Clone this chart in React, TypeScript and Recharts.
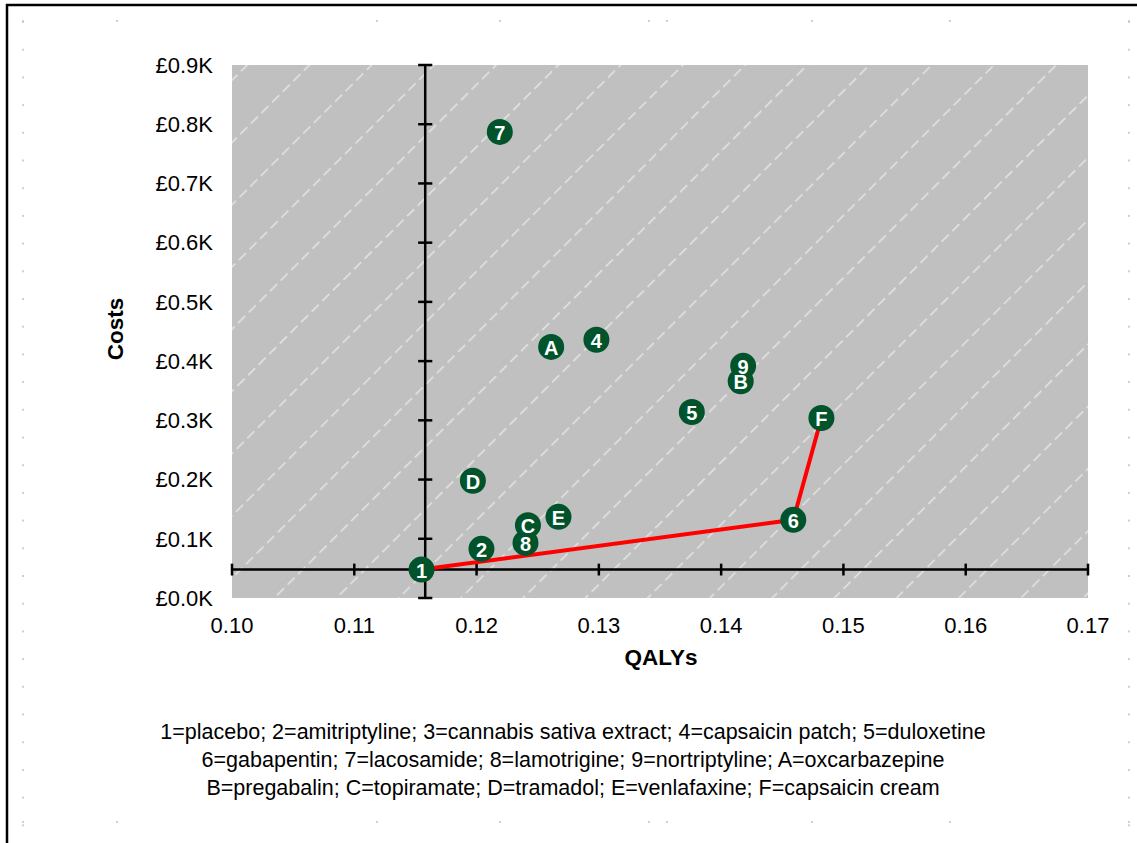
import {
  ScatterChart,
  Scatter,
  XAxis,
  YAxis,
  CartesianGrid,
  ReferenceLine,
} from "recharts";

// treatments plotted (3 = cannabis sativa extract is off the chart)
const labels = ["1", "2", "4", "5", "6", "7", "8", "9", "A", "B", "C", "D", "E", "F"];
const qalys = [0.1155, 0.1204, 0.1298, 0.1376, 0.1459, 0.1219, 0.124, 0.1418, 0.1261, 0.1416, 0.1242, 0.1197, 0.1267, 0.1482];
const costs = [48, 83, 436, 314, 132, 787, 93, 392, 424, 366, 123, 198, 137, 304];

// cost-effectiveness frontier
const frontierLabels = ["1", "6", "F"];

const xTicks = [0.1, 0.11, 0.12, 0.13, 0.14, 0.15, 0.16, 0.17];
const yTicks = [0, 100, 200, 300, 400, 500, 600, 700, 800, 900];

// where the drawn axes cross
const crossX = 0.1158;
const crossY = 48;

const legendLines = [
  "1=placebo; 2=amitriptyline; 3=cannabis sativa extract; 4=capsaicin patch; 5=duloxetine",
  "6=gabapentin; 7=lacosamide; 8=lamotrigine; 9=nortriptyline; A=oxcarbazepine",
  "B=pregabalin; C=topiramate; D=tramadol; E=venlafaxine; F=capsaicin cream",
];

const points = labels.map((label, i) => ({ label, x: qalys[i], y: costs[i] }));
const frontier = frontierLabels.map((l) => points.find((p) => p.label === l)!);

const FONT = "'Liberation Sans', Arial, sans-serif";
const GREEN = "#00532A";

const Dot = (props: any) => <circle cx={props.cx} cy={props.cy} r={13} fill={GREEN} />;

const Tag = (props: any) => (
  <text
    x={props.cx}
    y={props.cy + 8}
    textAnchor="middle"
    fill="#fff"
    fontWeight="bold"
    fontSize={20}
    fontFamily={FONT}
  >
    {props.payload.label}
  </text>
);

const dotXs = [23, 117, 377, 500, 649, 667, 812, 950, 1129];
const dotYs = Array.from({ length: 30 }, (_, k) => 21 + k * 27.7);

export default function App() {
  const tx = 0.00058; // half tick length in data units (x)
  const ty = 10; // half tick length in data units (y)
  return (
    <div style={{ position: "absolute", left: 0, top: 0, width: 1137, height: 843, background: "#fff" }}>
      <ScatterChart width={1137} height={843} margin={{ top: 65, right: 49, bottom: 185, left: 132 }}>
        <defs>
          <pattern id="hatch" width="15" height="44" patternUnits="userSpaceOnUse" patternTransform="rotate(-45)">
            <rect width="15" height="44" fill="#c0c0c0" />
            <rect x="0" y="0" width="10" height="1.5" fill="#e4e4e4" />
          </pattern>
        </defs>
        <CartesianGrid horizontal={false} vertical={false} fill="url(#hatch)" fillOpacity={1} />
        <XAxis
          type="number"
          dataKey="x"
          domain={[0.1, 0.17]}
          ticks={xTicks}
          tickFormatter={(v: number) => v.toFixed(2)}
          axisLine={false}
          tickLine={false}
          tickSize={0}
          tickMargin={19}
          height={60}
          tick={{ fontSize: 22, fill: "#000", fontFamily: FONT }}
          interval={0}
        />
        <YAxis
          type="number"
          dataKey="y"
          domain={[0, 900]}
          ticks={yTicks}
          tickFormatter={(v: number) => `£${(v / 1000).toFixed(1)}K`}
          axisLine={false}
          tickLine={false}
          tickSize={0}
          tickMargin={19}
          width={100}
          tick={{ fontSize: 22, fill: "#000", fontFamily: FONT }}
          interval={0}
        />
        <ReferenceLine x={crossX} stroke="#000" strokeWidth={2.5} ifOverflow="visible" />
        <ReferenceLine y={crossY} stroke="#000" strokeWidth={2.5} ifOverflow="visible" />
        {yTicks.map((v) => (
          <ReferenceLine
            key={"yt" + v}
            segment={[{ x: crossX - tx, y: v }, { x: crossX + tx, y: v }]}
            stroke="#000"
            strokeWidth={2.5}
            ifOverflow="visible"
          />
        ))}
        {xTicks.map((v) => (
          <ReferenceLine
            key={"xt" + v}
            segment={[{ x: v, y: crossY - ty }, { x: v, y: crossY + ty }]}
            stroke="#000"
            strokeWidth={2.5}
            ifOverflow="visible"
          />
        ))}
        <Scatter
          data={frontier}
          line={{ stroke: "#ff0000", strokeWidth: 4 }}
          shape={() => <g />}
          isAnimationActive={false}
        />
        <Scatter data={points} shape={<Dot />} isAnimationActive={false} />
        <Scatter data={points} shape={<Tag />} isAnimationActive={false} />
      </ScatterChart>
      <svg
        width={1137}
        height={843}
        style={{ position: "absolute", left: 0, top: 0, pointerEvents: "none" }}
      >
        {dotYs.map((y) => (
          <g key={"d" + y}>
            <rect x={22} y={y} width={2} height={2} fill="#cfcfcf" />
            <rect x={1128} y={y} width={2} height={2} fill="#cfcfcf" />
          </g>
        ))}
        {dotXs.map((x) => (
          <g key={"h" + x}>
            <rect x={x - 1} y={20} width={2} height={2} fill="#cfcfcf" />
            <rect x={x - 1} y={821} width={2} height={2} fill="#cfcfcf" />
          </g>
        ))}
        <line x1={6} y1={5} x2={1137} y2={5} stroke="#000" strokeWidth={2.5} />
        <line x1={7} y1={4} x2={7} y2={843} stroke="#000" strokeWidth={2.5} />
        <text x={661} y={665} textAnchor="middle" fontSize={22.5} fontWeight="bold" fontFamily={FONT}>
          QALYs
        </text>
        <text
          transform="translate(123,329) rotate(-90)"
          textAnchor="middle"
          fontSize={22.5}
          fontWeight="bold"
          fontFamily={FONT}
        >
          Costs
        </text>
        {legendLines.map((line, i) => (
          <text
            key={i}
            x={573}
            y={739 + i * 28}
            textAnchor="middle"
            fontSize={21.5}
            fontFamily={FONT}
          >
            {line}
          </text>
        ))}
      </svg>
    </div>
  );
}
